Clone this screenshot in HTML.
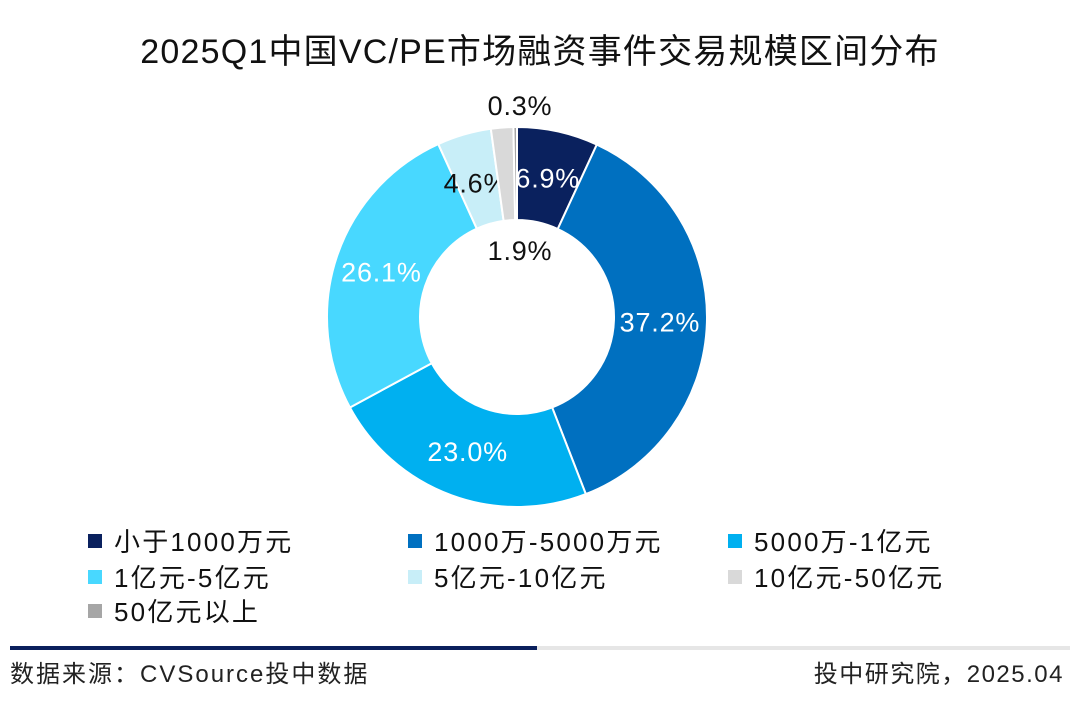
<!DOCTYPE html>
<html><head><meta charset="utf-8">
<style>
body{margin:0;width:1080px;height:722px;background:#fff;font-family:"Liberation Sans","Noto Sans CJK SC",sans-serif;overflow:hidden;position:relative}
.title{position:absolute;top:24px;left:0;width:1080px;text-align:center;font-size:34px;letter-spacing:1.2px;color:#111}
.leg{position:absolute;font-size:26px;letter-spacing:2.2px;color:#111;display:flex;align-items:center;white-space:nowrap}
.leg i{display:inline-block;width:14px;height:14px;margin-right:12px}
.foot{position:absolute;top:654px;font-size:24px;letter-spacing:2px;color:#222;white-space:nowrap}
</style></head><body>
<div class="title">2025Q1中国VC/PE市场融资事件交易规模区间分布</div>
<svg id="chart" width="1080" height="722" style="position:absolute;left:0;top:0"></svg>
<div id="legend"></div>
<div style="position:absolute;left:10px;top:646px;width:527px;height:4px;background:#0a1f5c"></div>
<div style="position:absolute;left:537px;top:646px;width:533px;height:4px;background:#e6e6e6"></div>
<div class="foot" style="left:10px">数据来源：CVSource投中数据</div>
<div class="foot" style="right:16px;letter-spacing:1.5px">投中研究院，2025.04</div>
<script>
const categories=["小于1000万元","1000万-5000万元","5000万-1亿元","1亿元-5亿元","5亿元-10亿元","10亿元-50亿元","50亿元以上"];
const values=[6.9,37.2,23.0,26.1,4.6,1.9,0.3];
const colors=["#0a215e","#0070c0","#00b0f0","#48d8ff","#c8eef8","#d9d9d9","#a6a6a6"];
const labelColors=["#fff","#fff","#fff","#fff","#111","#111","#111"];
const svg=document.getElementById('chart');
const NS="http://www.w3.org/2000/svg";
const cx=517,cy=317,R=190,r=97;
const total=values.reduce((a,b)=>a+b,0);
function pt(a,rad){return [cx+rad*Math.sin(a),cy-rad*Math.cos(a)];}
let acc=0;
values.forEach((v,i)=>{
  const a0=acc/total*2*Math.PI;acc+=v;const a1=acc/total*2*Math.PI;
  const big=(a1-a0)>Math.PI?1:0;
  const [x0,y0]=pt(a0,R),[x1,y1]=pt(a1,R),[x2,y2]=pt(a1,r),[x3,y3]=pt(a0,r);
  const p=document.createElementNS(NS,'path');
  p.setAttribute('d',`M${x0},${y0}A${R},${R} 0 ${big} 1 ${x1},${y1}L${x2},${y2}A${r},${r} 0 ${big} 0 ${x3},${y3}Z`);
  p.setAttribute('fill',colors[i]);p.setAttribute('stroke','#fff');p.setAttribute('stroke-width','2');
  
  
  svg.appendChild(p);
  const am=(a0+a1)/2;
  let lx,ly;
  if(i===5){lx=cx+3;ly=cy-67;}
  else if(i===6){lx=cx+3;ly=cy-212;}
  else if(i===4){[lx,ly]=pt(am,140);lx-=2;}
  else{[lx,ly]=pt(am,143);}
  const t=document.createElementNS(NS,'text');
  t.setAttribute('x',lx);t.setAttribute('y',ly+10);t.setAttribute('text-anchor','middle');
  t.setAttribute('font-size','27');t.setAttribute('letter-spacing','0.8');t.setAttribute('fill',labelColors[i]);
  t.setAttribute('font-family','Liberation Sans, sans-serif');
  t.textContent=v.toFixed(1)+'%';
  
  
  svg.appendChild(t);
});
const lg=document.getElementById('legend');
const lpos=[[88,522],[408,522],[728,522],[88,558],[408,558],[728,558],[88,592]];
categories.forEach((c,i)=>{
  const d=document.createElement('div');d.className='leg';
  d.style.left=lpos[i][0]+'px';d.style.top=lpos[i][1]+'px';
  d.innerHTML='<i style="background:'+colors[i]+'"></i>'+c;
  
  
  lg.appendChild(d);
});
</script>
</body></html>
